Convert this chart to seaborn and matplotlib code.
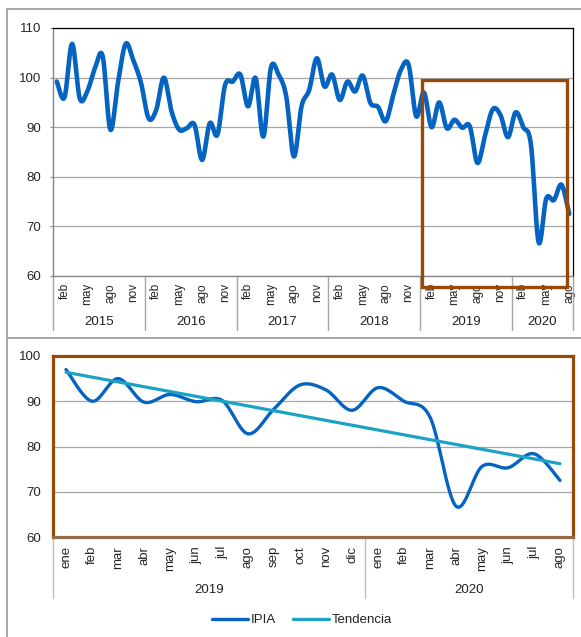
import numpy as np
import matplotlib
matplotlib.use("Agg")
import matplotlib.pyplot as plt
import seaborn as sns
from matplotlib.lines import Line2D
from matplotlib.patches import Rectangle

# ---------------- data ----------------
years_top = ["2015", "2016", "2017", "2018", "2019", "2020"]
years_bottom = ["2019", "2020"]
month_names = ["ene", "feb", "mar", "abr", "may", "jun",
               "jul", "ago", "sep", "oct", "nov", "dic"]
top_tick_months = ["feb", "may", "ago", "nov"]

ipia_2015 = [99.2, 96.0, 106.8, 95.8, 97.3, 102.0, 104.3, 89.5, 99.0, 106.8, 103.5, 99.0]
ipia_2016 = [91.8, 93.5, 100.0, 93.2, 89.5, 89.8, 90.5, 83.4, 90.8, 88.5, 98.5, 99.2]
ipia_2017 = [100.6, 94.2, 99.9, 88.1, 102.0, 100.6, 96.2, 84.1, 94.2, 97.5, 103.9, 98.2]
ipia_2018 = [100.6, 95.5, 99.2, 97.2, 100.4, 94.9, 94.1, 91.2, 96.5, 101.6, 102.6, 92.2]
ipia_2019 = [97.0, 90.0, 95.0, 89.8, 91.5, 89.9, 90.2, 82.8, 88.3, 93.6, 92.5, 88.0]
ipia_2020 = [93.0, 90.0, 86.5, 66.8, 75.6, 75.3, 78.4, 72.5]

tendencia_ends = [96.4, 76.2]          # trend line, ene-2019 and ago-2020
legend_labels = ["IPIA", "Tendencia"]

ipia = ipia_2015 + ipia_2016 + ipia_2017 + ipia_2018 + ipia_2019 + ipia_2020
ipia_recent = ipia_2019 + ipia_2020

# ---------------- style ----------------
BLUE = "#0563C1"
TEAL = "#1BA3C6"
BROWN = "#984807"
GRID = "#A6A6A6"
AXG = "#868686"

sns.set_style("white")
plt.rcParams["font.family"] = ["Liberation Sans", "DejaVu Sans"]
plt.rcParams["text.color"] = "#222222"


def smooth(xv, yv, n=16):
    """Excel-like smoothed line (Bezier through the points)."""
    P = np.column_stack([np.asarray(xv, float), np.asarray(yv, float)])
    pts = []
    for i in range(len(P) - 1):
        p0 = P[i - 1] if i > 0 else P[i]
        p1, p2 = P[i], P[i + 1]
        p3 = P[i + 2] if i + 2 < len(P) else P[i + 1]
        c1 = p1 + (p2 - p0) / 6.0
        c2 = p2 - (p3 - p1) / 6.0
        t = np.linspace(0, 1, n, endpoint=False)[:, None]
        pts.append((1 - t) ** 3 * p1 + 3 * (1 - t) ** 2 * t * c1
                   + 3 * (1 - t) * t ** 2 * c2 + t ** 3 * p2)
    pts.append(P[-1:])
    return np.vstack(pts)


W, H = 581, 637
fig = plt.figure(figsize=(W / 100, H / 100), dpi=100)

# outer frame lines
fig.add_artist(Line2D([7 / W, 1], [1 - 9 / H, 1 - 9 / H], color=GRID, lw=1.4))
fig.add_artist(Line2D([7 / W, 7 / W], [0, 1 - 9 / H], color=GRID, lw=1.4))
fig.add_artist(Line2D([7 / W, 1], [1 - 337.5 / H, 1 - 337.5 / H], color=GRID, lw=1.4))

# ---------------- top chart ----------------
ax1 = fig.add_axes([53 / W, 1 - 276 / H, 520 / W, 248 / H])
n = len(ipia)
xs = np.arange(n)
s = smooth(xs, ipia)
sns.lineplot(x=s[:, 0], y=s[:, 1], ax=ax1, sort=False, estimator=None,
             color=BLUE, linewidth=3.3, legend=False)
ax1.set_xlim(-0.5, n - 0.5)
ax1.set_ylim(60, 110)
ax1.set_yticks(range(60, 111, 10))
ax1.grid(axis="y", color=GRID, lw=0.9)
ax1.set_axisbelow(True)
for side in ["top", "right"]:
    ax1.spines[side].set_color("black")
    ax1.spines[side].set_linewidth(0.9)
for side in ["left", "bottom"]:
    ax1.spines[side].set_color(AXG)
    ax1.spines[side].set_linewidth(1.0)
ax1.tick_params(axis="y", length=2.2, color=AXG, pad=6.5, labelsize=9.5, left=True)

tpos, tlab = [], []
for k in range(len(years_top)):
    for m in (1, 4, 7, 10):
        if 12 * k + m < n:
            tpos.append(12 * k + m)
            tlab.append(month_names[m])
ax1.set_xticks(tpos)
ax1.set_xticklabels(tlab, rotation=90, fontsize=8.5)
ax1.tick_params(axis="x", length=0, pad=5)
ax1.set_xlabel("")
ax1.set_ylabel("")

trans1 = ax1.get_xaxis_transform()
bounds = [-0.5 + 12 * k for k in range(len(years_top))] + [n - 0.5]
for b in bounds:
    ax1.plot([b, b], [0, -0.218], transform=trans1, color=GRID, lw=1.0, clip_on=False)
for k, yr in enumerate(years_top):
    lo, hi = bounds[k], bounds[k + 1]
    ax1.text((lo + hi) / 2, -0.185, yr, transform=trans1, ha="center", va="center",
             fontsize=9.5)

ax1.add_patch(Rectangle((47.8, 57.8), 66.7 - 47.8, 99.5 - 57.8, fill=False,
                        edgecolor=BROWN, lw=2.4, clip_on=False, zorder=5))

# ---------------- bottom chart ----------------
ax2 = fig.add_axes([53 / W, 1 - 537 / H, 520 / W, 181 / H])
m = len(ipia_recent)
xs2 = np.arange(m)
s2 = smooth(xs2, ipia_recent)
sns.lineplot(x=s2[:, 0], y=s2[:, 1], ax=ax2, sort=False, estimator=None,
             color=BLUE, linewidth=2.4, legend=False)
sns.lineplot(x=[0, m - 1], y=tendencia_ends, ax=ax2, sort=False, estimator=None,
             color=TEAL, linewidth=2.3, legend=False)
ax2.set_xlim(-0.5, m - 0.5)
ax2.set_ylim(60, 100)
ax2.set_yticks(range(60, 101, 10))
ax2.grid(axis="y", color=GRID, lw=0.9)
ax2.set_axisbelow(True)
for side in ["top", "right", "left", "bottom"]:
    ax2.spines[side].set_color(BROWN)
    ax2.spines[side].set_linewidth(2.3)
ax2.spines["bottom"].set_color("#946A48")
ax2.tick_params(axis="y", length=0, pad=8.5, labelsize=9.5)
bottom_labels = [month_names[i % 12] for i in range(m)]
ax2.set_xticks(xs2)
ax2.set_xticklabels(bottom_labels, rotation=90, fontsize=9.5)
ax2.tick_params(axis="x", length=0, pad=6.5)
ax2.set_xlabel("")
ax2.set_ylabel("")

trans2 = ax2.get_xaxis_transform()
bounds2 = [-0.5, 11.5, m - 0.5]
for b in bounds2:
    ax2.plot([b, b], [0, -0.337], transform=trans2, color="#BFBFBF", lw=1.0, clip_on=False)
for k, yr in enumerate(years_bottom):
    lo, hi = bounds2[k], bounds2[k + 1]
    ax2.text((lo + hi) / 2, -0.293, yr, transform=trans2, ha="center", va="center",
             fontsize=9.5)

handles = [Line2D([], [], color=BLUE, lw=2.4), Line2D([], [], color=TEAL, lw=2.4)]
fig.legend(handles, legend_labels, loc="center", bbox_to_anchor=(302 / W, 1 - 620 / H),
           ncol=2, frameon=False, fontsize=9.5, handlelength=2.7, handletextpad=0.2,
           columnspacing=1.3)

fig.savefig("out.png", dpi=100)
